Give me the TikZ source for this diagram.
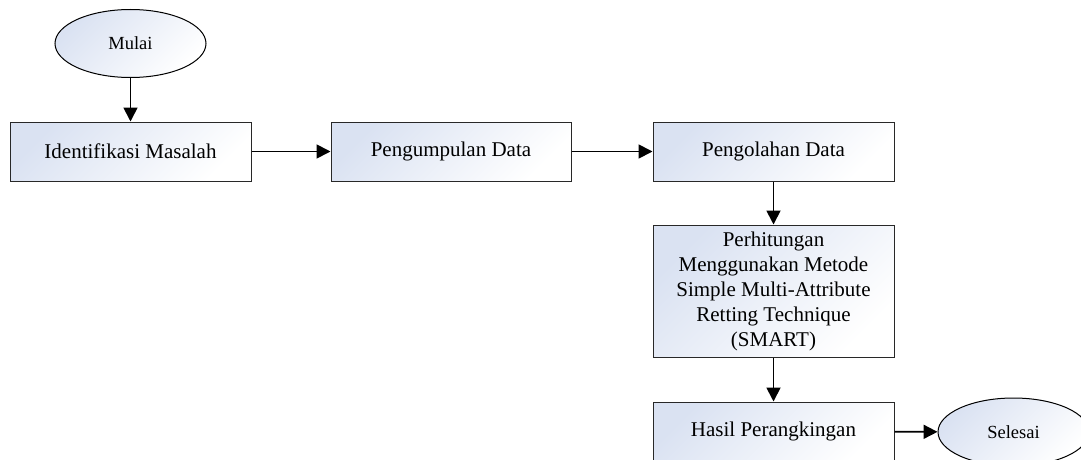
\documentclass[tikz,border=0pt]{standalone}
\usepackage{fontspec}
\setmainfont{Liberation Serif}
\usetikzlibrary{arrows.meta,shapes.geometric}
\definecolor{boxfill}{RGB}{218,226,242}
\definecolor{boxline}{RGB}{40,40,40}
\tikzset{
  procbox/.style={draw=boxline, line width=1pt, left color=boxfill, right color=white, shading angle=45,
    minimum width=241pt, minimum height=59pt, inner sep=2pt, align=center,
    font=\fontsize{21}{25}\selectfont},
  termel/.style={ellipse, draw=black, line width=1pt, left color=boxfill, right color=white, shading angle=45,
    minimum width=151pt, minimum height=68pt, inner sep=0pt,
    font=\fontsize{18.5}{22}\selectfont},
  flow/.style={line width=1.8pt, -{Triangle[length=14pt,width=14pt]}},
}
\begin{document}
\begin{tikzpicture}[x=1pt,y=-1pt]
\useasboundingbox (0,0) rectangle (1081,460);
\clip (0,0) rectangle (1081,460);
\fill[white] (0,0) rectangle (1081,460);
\node[termel] (mulai) at (130.5,43.5) {Mulai};
\node[procbox] (ident) at (130.5,151.5) {Identifikasi Masalah};
\node[procbox, minimum width=240pt] (kumpul) at (451,151.5) {Pengumpulan Data};
\node[procbox] (olah) at (773.5,151.5) {Pengolahan Data};
\node[procbox, minimum height=132pt] (hitung) at (773.5,291)
  {Perhitungan\\Menggunakan Metode\\Simple Multi-Attribute\\Retting Technique\\(SMART)};
\node[procbox] (hasil) at (773.5,431.5) {Hasil Perangkingan};
\node[termel] (selesai) at (1013.5,432) {Selesai};
\draw[flow] (mulai) -- (ident);
\draw[flow] (ident) -- (kumpul);
\draw[flow] (kumpul) -- (olah);
\draw[flow] (olah) -- (hitung);
\draw[flow] (hitung) -- (hasil);
\draw[flow] (hasil) -- (selesai);
\end{tikzpicture}
\end{document}
